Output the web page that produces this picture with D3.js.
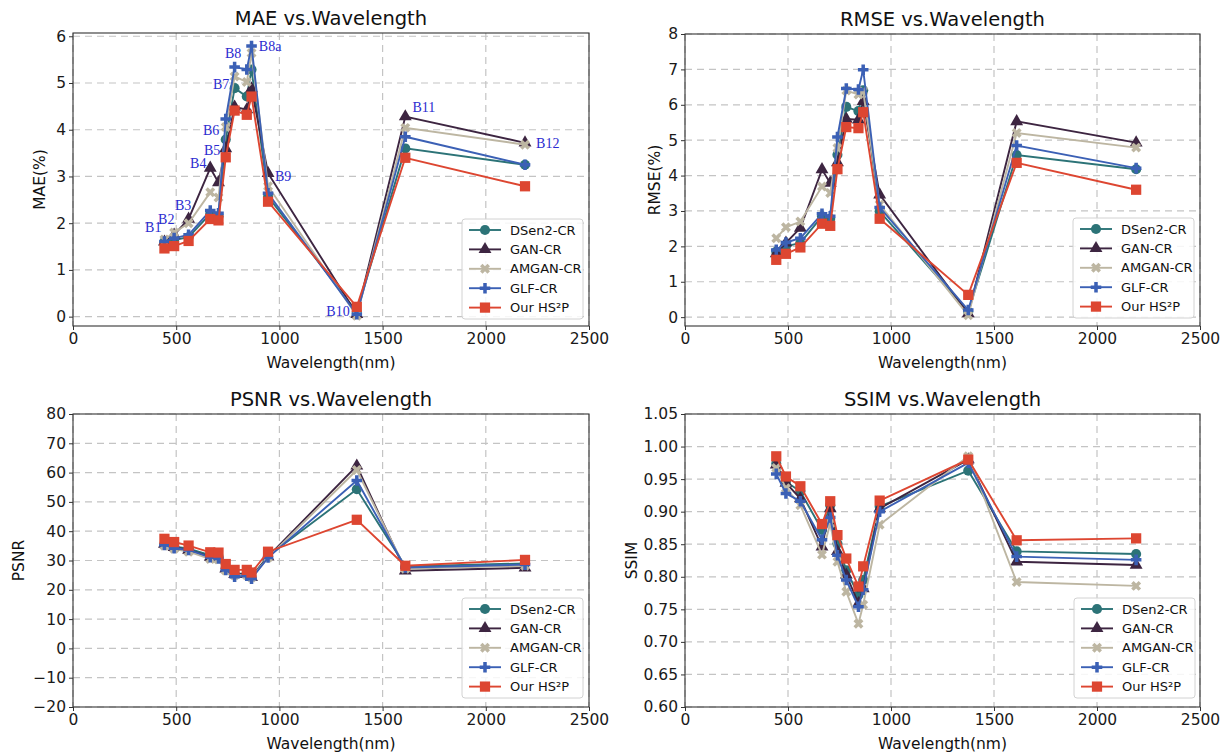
<!DOCTYPE html>
<html>
<head>
<meta charset="utf-8">
<script src="https://cdn.jsdelivr.net/npm/d3@7"></script>
<style>
  html, body { margin: 0; padding: 0; background: #fff; }
  svg { display: block; font-family: "DejaVu Sans", sans-serif; }
</style>
</head>
<body>
<svg id="chart" width="1231" height="755"></svg>
<script>
// ---------------- DATA ----------------
const wavelengths = [443, 490, 560, 665, 705, 740, 783, 842, 865, 945, 1375, 1610, 2190];
const bandLabels = ["B1","B2","B3","B4","B5","B6","B7","B8","B8a","B9","B10","B11","B12"];
const methods = ["DSen2-CR", "GAN-CR", "AMGAN-CR", "GLF-CR", "Our HS²P"];

const maeDSen2 = [1.60,1.64,1.70,2.20,2.15,3.79,4.89,4.71,5.29,2.57,0.10,3.60,3.25];
const maeGAN   = [1.60,1.75,2.09,3.18,2.87,3.60,4.49,4.43,4.88,3.07,0.05,4.28,3.72];
const maeAMGAN = [1.65,1.80,2.00,2.66,2.55,4.06,5.14,5.02,5.64,2.79,0.02,4.04,3.68];
const maeGLF   = [1.61,1.68,1.75,2.27,2.21,4.23,5.34,5.29,5.79,2.64,0.05,3.85,3.25];
const maeOurs  = [1.46,1.51,1.62,2.09,2.06,3.41,4.41,4.32,4.71,2.46,0.21,3.40,2.79];

const rmseDSen2 = [1.85,2.00,2.10,2.85,2.78,4.59,5.94,5.82,6.41,2.99,0.15,4.58,4.18];
const rmseGAN   = [1.80,2.10,2.52,4.17,3.79,4.37,5.60,5.58,6.10,3.46,0.10,5.53,4.93];
const rmseAMGAN = [2.23,2.54,2.70,3.69,3.51,4.78,6.40,6.29,6.38,3.18,0.05,5.20,4.79];
const rmseGLF   = [1.90,2.11,2.23,2.92,2.85,5.09,6.46,6.43,6.99,3.10,0.20,4.85,4.21];
const rmseOurs  = [1.62,1.79,1.97,2.64,2.58,4.18,5.37,5.34,5.79,2.78,0.63,4.36,3.60];

const psnrDSen2 = [35.8,34.8,34.0,31.8,31.4,27.5,25.4,25.6,24.5,31.5,54.3,28.0,29.0];
const psnrGAN   = [35.6,34.5,33.6,31.2,30.9,27.2,25.3,25.3,24.3,31.3,62.3,26.5,27.5];
const psnrAMGAN = [35.0,34.0,33.0,30.5,30.3,26.6,25.0,25.0,24.2,31.0,60.9,27.2,28.2];
const psnrGLF   = [35.3,34.2,33.6,31.1,30.7,26.8,24.5,24.8,23.8,31.0,57.3,27.6,28.6];
const psnrOurs  = [37.4,36.3,35.1,32.8,32.7,28.8,26.8,26.8,25.9,33.0,43.9,28.2,30.2];

const ssimDSen2 = [0.974,0.946,0.931,0.872,0.910,0.851,0.810,0.772,0.795,0.908,0.963,0.839,0.835];
const ssimGAN   = [0.972,0.944,0.920,0.846,0.905,0.839,0.803,0.759,0.782,0.905,0.980,0.823,0.818];
const ssimAMGAN = [0.967,0.936,0.910,0.834,0.882,0.823,0.777,0.728,0.757,0.880,0.985,0.792,0.786];
const ssimGLF   = [0.958,0.928,0.916,0.857,0.891,0.833,0.795,0.754,0.780,0.900,0.975,0.831,0.826];
const ssimOurs  = [0.985,0.954,0.939,0.881,0.916,0.864,0.828,0.785,0.816,0.917,0.980,0.856,0.859];

// band-label annotation anchor positions (in data units of the MAE panel)
const annotX = [389, 452, 534, 607, 674, 669, 718, 776, 955, 1018, 1284, 1700, 2300];
const annotY = [1.92, 2.09, 2.39, 3.29, 3.57, 4.00, 4.97, 5.65, 5.78, 3.01, 0.12, 4.49, 3.72];

const xTicks = [0, 500, 1000, 1500, 2000, 2500];
const maeTicks  = [0, 1, 2, 3, 4, 5, 6];
const rmseTicks = [0, 1, 2, 3, 4, 5, 6, 7, 8];
const psnrTicks = [-20, -10, 0, 10, 20, 30, 40, 50, 60, 70, 80];
const ssimTicks = [0.60, 0.65, 0.70, 0.75, 0.80, 0.85, 0.90, 0.95, 1.00, 1.05];

// ---------------- STYLE ----------------
const colors  = ["#2c7377", "#3d2541", "#bdb6a2", "#3b60b5", "#dd4631"];
const shapes  = ["circle", "triangle", "x", "plus", "square"];

const svg = d3.select("#chart");

function markerPath(shape) {
  if (shape === "circle")   return d3.symbol(d3.symbolCircle, 80)();
  if (shape === "triangle") return d3.symbol(d3.symbolTriangle, 72)();
  if (shape === "square")   return d3.symbol(d3.symbolSquare, 105)();
  return d3.symbol(d3.symbolCross, 62)();
}
function markerRot(shape) { return shape === "x" ? 45 : 0; }

function fmt(t, decimals) {
  const s = decimals ? t.toFixed(decimals) : String(t);
  return s.replace("-", "\u2212");
}

function drawPanel(cfg) {
  const { left, right, top, bottom, yDomain, yTicks, decimals, title, ylabel, series, legend, ylabelX } = cfg;
  const x = d3.scaleLinear().domain([0, 2500]).range([left, right]);
  const y = d3.scaleLinear().domain(yDomain).range([bottom, top]);
  const g = svg.append("g");

  // grid
  g.append("g").selectAll("line").data(xTicks).join("line")
    .attr("x1", d => x(d)).attr("x2", d => x(d)).attr("y1", top).attr("y2", bottom)
    .attr("stroke", "#c4c4c4").attr("stroke-width", 1.2).attr("stroke-dasharray", "7,5");
  g.append("g").selectAll("line").data(yTicks).join("line")
    .attr("x1", left).attr("x2", right).attr("y1", d => y(d)).attr("y2", d => y(d))
    .attr("stroke", "#c4c4c4").attr("stroke-width", 1.2).attr("stroke-dasharray", "7,5");

  // axes
  const xAxis = d3.axisBottom(x).tickValues(xTicks).tickSize(4).tickPadding(3).tickFormat(d => fmt(d));
  const yAxis = d3.axisLeft(y).tickValues(yTicks).tickSize(4).tickPadding(3).tickFormat(d => fmt(d, decimals));
  const gx = g.append("g").attr("transform", `translate(0,${bottom})`).call(xAxis);
  const gy = g.append("g").attr("transform", `translate(${left},0)`).call(yAxis);
  [gx, gy].forEach(a => {
    a.select(".domain").remove();
    a.selectAll("line").attr("stroke", "#333");
    a.selectAll("text").attr("fill", "#1a1a1a").style("font-size", "15.5px").style("font-family", "DejaVu Sans");
  });

  // frame
  g.append("rect").attr("x", left).attr("y", top).attr("width", right - left).attr("height", bottom - top)
    .attr("fill", "none").attr("stroke", "#333").attr("stroke-width", 1.1);

  // lines + markers
  const line = d3.line().x((d, i) => x(wavelengths[i])).y(d => y(d));
  series.forEach((vals, k) => {
    g.append("path").datum(vals).attr("d", line)
      .attr("fill", "none").attr("stroke", colors[k]).attr("stroke-width", 1.9);
    g.append("g").selectAll("path").data(vals).join("path")
      .attr("d", markerPath(shapes[k]))
      .attr("transform", (d, i) => `translate(${x(wavelengths[i])},${y(d)}) rotate(${markerRot(shapes[k])})`)
      .attr("fill", colors[k]);
  });

  // titles / labels
  g.append("text").attr("x", (left + right) / 2).attr("y", top - 8).attr("text-anchor", "middle")
    .style("font-size", "19.5px").attr("fill", "#111").text(title);
  g.append("text").attr("x", (left + right) / 2).attr("y", bottom + 42).attr("text-anchor", "middle")
    .style("font-size", "15.5px").attr("fill", "#111").text("Wavelength(nm)");
  g.append("text").attr("transform", `translate(${ylabelX},${(top + bottom) / 2}) rotate(-90)`)
    .attr("text-anchor", "middle").attr("dy", "0.35em")
    .style("font-size", "15.5px").attr("fill", "#111").text(ylabel);

  // legend
  const lg = g.append("g").attr("transform", `translate(${legend.x},${legend.y})`);
  lg.append("rect").attr("x", 0).attr("y", 0).attr("width", legend.w).attr("height", 100)
    .attr("rx", 3).attr("fill", "rgba(255,255,255,0.85)").attr("stroke", "#d2d2d2");
  methods.forEach((m, k) => {
    const yy = 11 + k * 19.4;
    lg.append("line").attr("x1", 7).attr("x2", 39).attr("y1", yy).attr("y2", yy)
      .attr("stroke", colors[k]).attr("stroke-width", 1.9);
    lg.append("path").attr("d", markerPath(shapes[k]))
      .attr("transform", `translate(23,${yy}) rotate(${markerRot(shapes[k])})`).attr("fill", colors[k]);
    lg.append("text").attr("x", 48).attr("y", yy).attr("dy", "0.35em")
      .style("font-size", "13px").attr("fill", "#111").text(m);
  });

  return { x, y, g };
}

const mae = drawPanel({
  left: 73, right: 589, top: 33, bottom: 326, yDomain: [-0.2, 6.07], yTicks: maeTicks, decimals: 0,
  title: "MAE vs.Wavelength", ylabel: "MAE(%)", ylabelX: 40,
  series: [maeDSen2, maeGAN, maeAMGAN, maeGLF, maeOurs],
  legend: { x: 462, y: 219, w: 121 }
});
drawPanel({
  left: 685, right: 1200, top: 34, bottom: 326, yDomain: [-0.25, 8], yTicks: rmseTicks, decimals: 0,
  title: "RMSE vs.Wavelength", ylabel: "RMSE(%)", ylabelX: 655,
  series: [rmseDSen2, rmseGAN, rmseAMGAN, rmseGLF, rmseOurs],
  legend: { x: 1073, y: 218, w: 121 }
});
drawPanel({
  left: 73, right: 589, top: 414, bottom: 707, yDomain: [-20, 80], yTicks: psnrTicks, decimals: 0,
  title: "PSNR vs.Wavelength", ylabel: "PSNR", ylabelX: 19,
  series: [psnrDSen2, psnrGAN, psnrAMGAN, psnrGLF, psnrOurs],
  legend: { x: 462, y: 598, w: 121 }
});
drawPanel({
  left: 685, right: 1200, top: 414, bottom: 707, yDomain: [0.6, 1.05], yTicks: ssimTicks, decimals: 2,
  title: "SSIM vs.Wavelength", ylabel: "SSIM", ylabelX: 632,
  series: [ssimDSen2, ssimGAN, ssimAMGAN, ssimGLF, ssimOurs],
  legend: { x: 1074, y: 598, w: 121 }
});

// band annotations in MAE panel
mae.g.append("g").selectAll("text").data(bandLabels).join("text")
  .attr("x", (d, i) => mae.x(annotX[i])).attr("y", (d, i) => mae.y(annotY[i]))
  .attr("text-anchor", "middle").attr("dy", "0.35em")
  .style("font-family", "Liberation Serif, serif").style("font-size", "14px")
  .attr("fill", "#2b2bd0").text(d => d);
</script>
</body>
</html>
